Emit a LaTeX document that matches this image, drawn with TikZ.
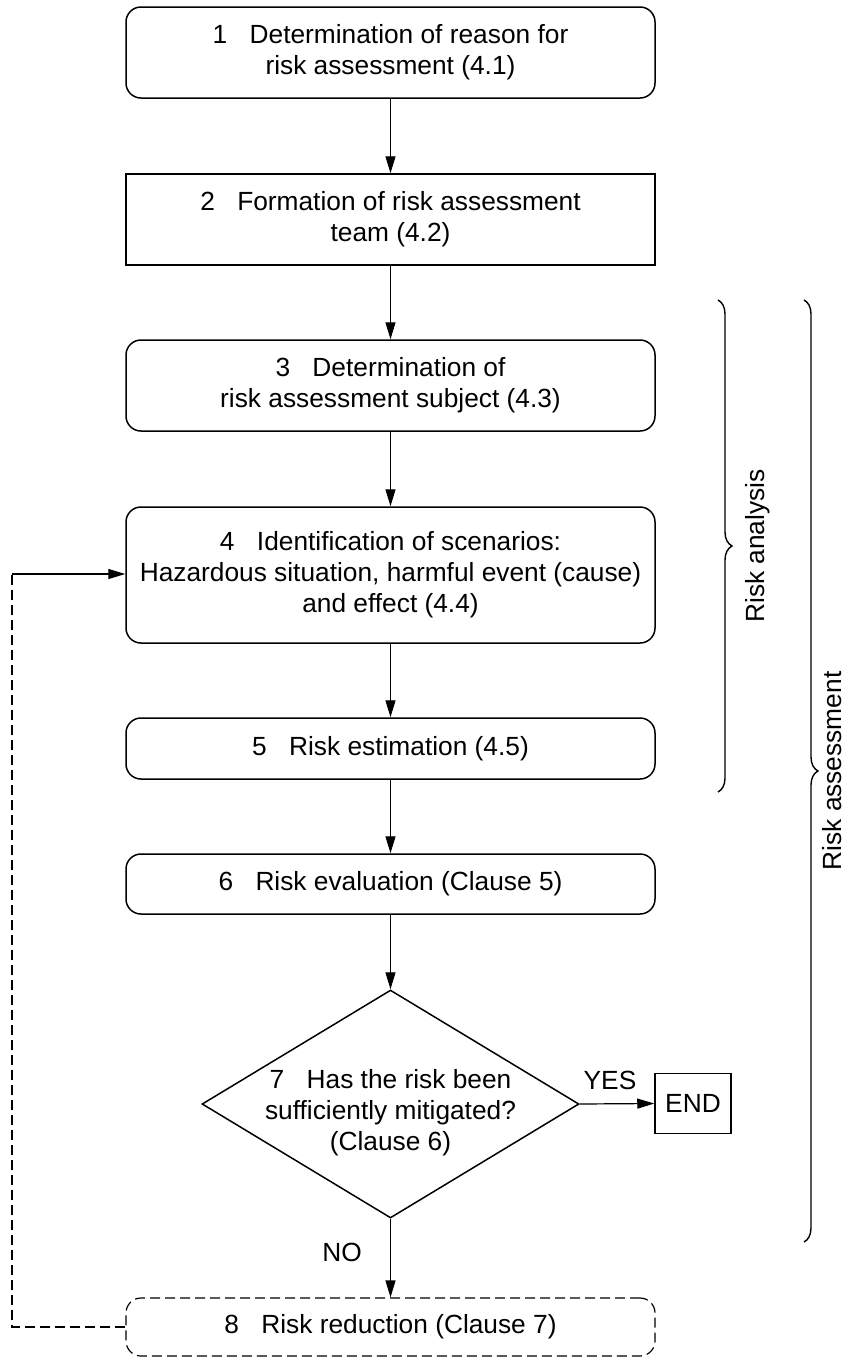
\documentclass[tikz,border=0pt]{standalone}
\usepackage{fontspec}
\setmainfont{Liberation Sans}
\usetikzlibrary{shapes.geometric,arrows.meta,decorations.pathreplacing}

\newcommand\stepgap{\hspace{0.85em}}

\tikzset{
	boxtext/.style={font=\fontsize{26.3}{31}\selectfont},
	stepbox/.style={boxtext, draw=black, line width=1.5pt, rounded corners=15pt, minimum width=529pt, inner sep=0pt, align=center},
	plainbox/.style={stepbox, sharp corners},
	flow/.style={draw=black, line width=1.2pt, -{Triangle[length=17pt,width=10pt]}},
	backline/.style={draw=black, line width=1.2pt, dash pattern=on 10pt off 5pt},
	bracket/.style={draw=black, line width=1.4pt, decorate, decoration={brace, amplitude=14pt}}
}

\begin{document}
\begin{tikzpicture}[x=1pt, y=-1pt]
		\useasboundingbox (0,0) rectangle (847,1358);
		% steps
		\node[stepbox, minimum height=91pt] (reason) at (390.5,52.5) {1\stepgap Determination of reason for\\risk assessment (4.1)};
		\node[plainbox, minimum height=91pt] (team) at (390.5,219.5) {2\stepgap Formation of risk assessment\\team (4.2)};
		\node[stepbox, minimum height=91pt] (subject) at (390.5,385.5) {3\stepgap Determination of\\risk assessment subject (4.3)};
		\node[stepbox, minimum height=136pt] (scenarios) at (390.5,575) {4\stepgap Identification of scenarios:\\Hazardous situation, harmful event (cause)\\and effect (4.4)};
		\node[stepbox, minimum height=61pt] (estimation) at (390.5,748.5) {5\stepgap Risk estimation (4.5)};
		\node[stepbox, minimum height=60pt] (evaluation) at (390.5,884) {6\stepgap Risk evaluation (Clause 5)};
		\node[draw=black, line width=1.5pt, diamond, aspect=1.65, minimum width=377pt, minimum height=228pt, inner sep=0pt] (mitigated) at (390.5,1104) {};
		\node[boxtext, align=center] (mitigatedtext) at (390.5,1113) {7\stepgap Has the risk been\\sufficiently mitigated?\\(Clause 6)};
		\node[boxtext, draw=black, line width=1.5pt, minimum width=76pt, minimum height=60pt, inner sep=0pt] (finish) at (693,1103.5) {END};
		\node[stepbox, minimum height=58pt, dash pattern=on 10pt off 5pt, line width=1.2pt] (reduction) at (390.5,1327) {8\stepgap Risk reduction (Clause 7)};
		% arrows
		\draw[flow] (reason) -- (team);
		\draw[flow] (team) -- (subject);
		\draw[flow] (subject) -- (scenarios);
		\draw[flow] (scenarios) -- (estimation);
		\draw[flow] (estimation) -- (evaluation);
		\draw[flow] (evaluation) -- (mitigated.north);
		\draw[flow] (mitigated.east) -- (finish.west);
		\draw[flow] (mitigated.south) -- (reduction.north);
		\node[boxtext] (yeslabel) at (610,1080) {YES};
		\node[boxtext] (nolabel) at (342,1252) {NO};
		% loop back
		\coordinate (backlow) at (12,1327);
		\coordinate (backhigh) at (12,574);
		\draw[backline] (reduction.west) -- (backlow) -- (backhigh);
		\draw[flow] (backhigh) -- (backhigh -| scenarios.west);
		% braces
		\draw[bracket] (718,300) -- (718,792);
		\node[boxtext, rotate=90] (analysislabel) at (758,546) {Risk analysis};
		\draw[bracket] (804,300) -- (804,1242);
		\node[boxtext, rotate=90] (assessmentlabel) at (832,771) {Risk assessment};
	\end{tikzpicture}
\end{document}
